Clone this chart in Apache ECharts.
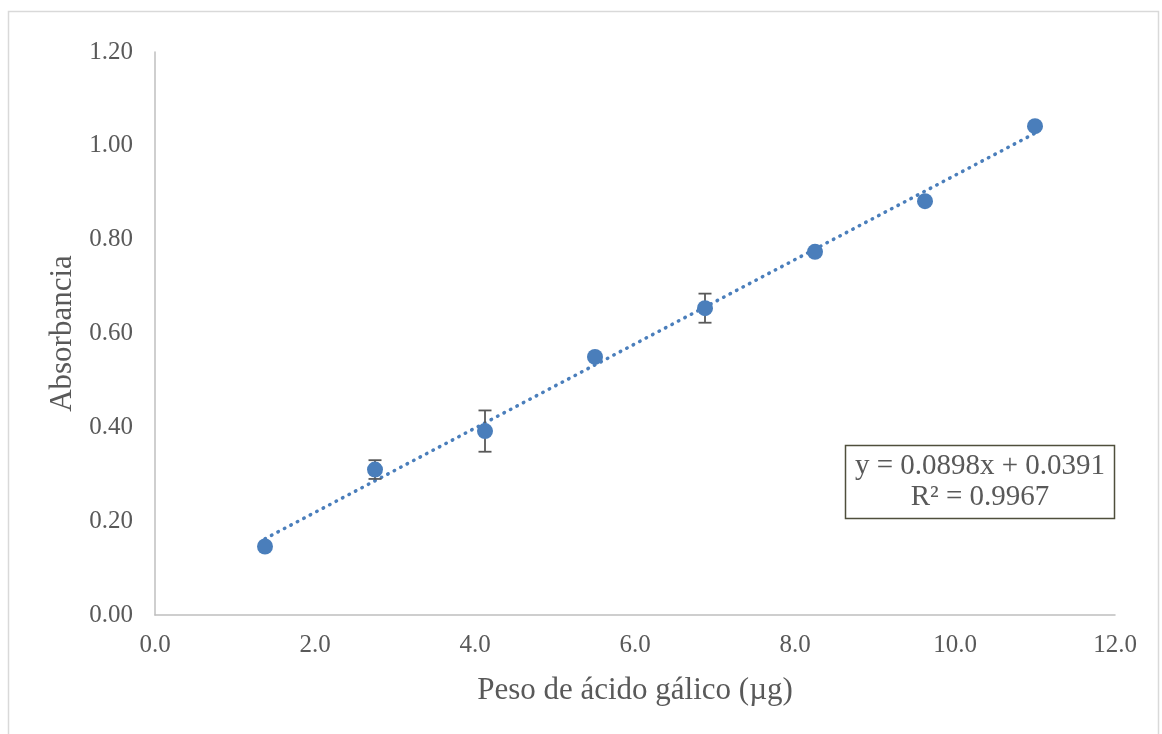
<!DOCTYPE html>
<html>
<head>
<meta charset="utf-8">
<script src="https://cdn.jsdelivr.net/npm/echarts@6/dist/echarts.min.js"></script>
<style>
  html, body { margin: 0; padding: 0; background: #fff; }
  #chart { width: 1162px; height: 734px; }
</style>
</head>
<body>
<div id="chart"></div>
<script>
// Gallic acid calibration: mass (µg) vs absorbance
const massUg = [1.375, 2.75, 4.125, 5.5, 6.875, 8.25, 9.625, 11.0];
const absorbance = [0.146, 0.310, 0.392, 0.550, 0.654, 0.774, 0.882, 1.042];
const absError = [0, 0.020, 0.044, 0, 0.031, 0, 0, 0];

// Linear fit reported on the chart
const slope = 0.0898;
const intercept = 0.0391;
const r2 = 0.9967;

const xTitle = 'Peso de ácido gálico (µg)';
const yTitle = 'Absorbancia';
const fitText = 'y = ' + slope.toFixed(4) + 'x + ' + intercept.toFixed(4) + '\nR² = ' + r2.toFixed(4);

const fitX = [massUg[0], massUg[massUg.length - 1]];
const fitLine = fitX.map(x => [x, slope * x + intercept]);
const points = massUg.map((x, i) => [x, absorbance[i]]);
const errData = massUg.map((x, i) => [x, absorbance[i] - absError[i], absorbance[i] + absError[i]])
  .filter((d, i) => absError[i] > 0);

const FONT = '"Liberation Serif", "Times New Roman", serif';
const TEXT = '#595959';
const AXIS = '#bfbfbf';
const BLUE = '#4a7ebb';

const chart = echarts.init(document.getElementById('chart'));
chart.setOption({
  backgroundColor: '#fff',
  animation: false,
  grid: { left: 155, right: 47, top: 52, bottom: 119 },
  xAxis: {
    type: 'value', min: 0, max: 12, interval: 2,
    axisLine: { show: true, lineStyle: { color: AXIS, width: 1.5 } },
    axisTick: { show: false },
    splitLine: { show: false },
    axisLabel: { color: TEXT, fontFamily: FONT, fontSize: 25, margin: 18,
      formatter: v => v.toFixed(1) },
    name: xTitle, nameLocation: 'middle', nameGap: 60,
    nameTextStyle: { color: TEXT, fontFamily: FONT, fontSize: 31 }
  },
  yAxis: {
    type: 'value', min: 0, max: 1.2, interval: 0.2,
    axisLine: { show: true, lineStyle: { color: AXIS, width: 1.5 } },
    axisTick: { show: false },
    splitLine: { show: false },
    axisLabel: { color: TEXT, fontFamily: FONT, fontSize: 25, margin: 22,
      formatter: v => v.toFixed(2) },
    name: yTitle, nameLocation: 'middle', nameGap: 75,
    nameTextStyle: { color: TEXT, fontFamily: FONT, fontSize: 31 }
  },
  series: [
    {
      type: 'line', data: fitLine, symbol: 'none', z: 2,
      lineStyle: { color: BLUE, width: 3.5, type: [0.5, 6.8], cap: 'round' }
    },
    {
      type: 'custom', z: 3,
      data: errData,
      renderItem: (params, api) => {
        const x = api.value(0);
        const lo = api.coord([x, api.value(1)]);
        const hi = api.coord([x, api.value(2)]);
        const cap = 6.5;
        const style = { stroke: '#595959', lineWidth: 1.8 };
        return {
          type: 'group',
          children: [
            { type: 'line', shape: { x1: lo[0], y1: lo[1], x2: hi[0], y2: hi[1] }, style },
            { type: 'line', shape: { x1: lo[0] - cap, y1: lo[1], x2: lo[0] + cap, y2: lo[1] }, style },
            { type: 'line', shape: { x1: hi[0] - cap, y1: hi[1], x2: hi[0] + cap, y2: hi[1] }, style }
          ]
        };
      }
    },
    {
      type: 'scatter', data: points, symbol: 'circle', symbolSize: 16, z: 4,
      itemStyle: { color: BLUE, opacity: 1 }
    }
  ],
  graphic: [
    {
      type: 'rect', silent: true, z: -1,
      shape: { x: 8.5, y: 11.5, width: 1150, height: 760 },
      style: { fill: 'none', stroke: '#d9d9d9', lineWidth: 1.5 }
    },
    {
      type: 'rect', silent: true, z: 10,
      shape: { x: 845.5, y: 445.5, width: 269, height: 73 },
      style: { fill: '#fff', stroke: '#4f4f3c', lineWidth: 1.5 }
    },
    {
      type: 'text', silent: true, z: 11,
      x: 980, y: 482,
      style: {
        text: fitText,
        font: '29px ' + FONT,
        fill: TEXT,
        align: 'center',
        verticalAlign: 'middle',
        lineHeight: 31
      }
    }
  ]
});
</script>
</body>
</html>
